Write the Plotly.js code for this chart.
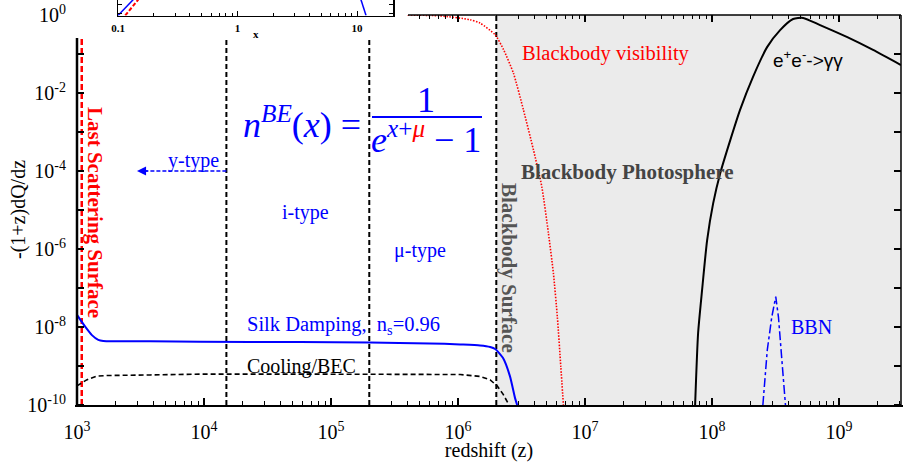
<!DOCTYPE html>
<html><head><meta charset="utf-8">
<script src="https://cdn.plot.ly/plotly-3.0.1.min.js"></script>
<style>html,body{margin:0;padding:0;background:#fff}#chart{width:906px;height:462px}</style>
</head><body><div id="chart"></div>
<script>
// ---------- data ----------
const zMax = 3.07e9;
const zSilk = [1000, 1160, 1310, 1470, 1610, 3760, 9300, 5.7e4, 2.03e5, 6.0e5, 1.04e6, 1.49e6, 1.79e6, 1.96e6, 2.26e6, 2.56e6, 2.81e6, 2.92e6];
const qSilk = [2.04e-8, 1.02e-8, 6.2e-9, 4.7e-9, 4.4e-9, 4.3e-9, 4.2e-9, 4.1e-9, 4.0e-9, 3.8e-9, 3.56e-9, 3.36e-9, 3.07e-9, 2.73e-9, 1.6e-9, 5.5e-10, 1.5e-10, 1.0e-10];
const zCool = [1000, 1190, 1430, 1710, 3760, 9300, 5.7e4, 3.5e5, 1.04e6, 1.49e6, 1.79e6, 2.03e6, 2.26e6, 2.48e6, 2.53e6];
const qCool = [3.1e-10, 4.4e-10, 5.5e-10, 5.7e-10, 5.9e-10, 6.2e-10, 6.2e-10, 6.2e-10, 6.05e-10, 5.4e-10, 4.4e-10, 3.1e-10, 1.9e-10, 1.1e-10, 1.0e-10];
const zVis = [4.0e5, 7.2e5, 1.24e6, 1.49e6, 1.96e6, 2.28e6, 2.73e6, 3.27e6, 3.92e6, 4.56e6, 5.14e6, 5.63e6, 6.05e6, 6.44e6, 6.75e6];
const qVis = [1.0, 0.95, 0.76, 0.62, 0.31, 0.13, 0.032, 3.7e-3, 3.5e-4, 4.0e-5, 2.6e-6, 2.4e-7, 1.8e-8, 9.6e-10, 1.0e-10];
const zEE = [7.35e7, 7.76e7, 8.34e7, 9.14e7, 1.02e8, 1.16e8, 1.39e8, 1.66e8, 2.10e8, 2.71e8, 3.43e8, 4.34e8, 5.21e8, 7.08e8, 1.16e9, 1.85e9, 3.07e9];
const qEE = [1.0e-10, 7.0e-9, 8.9e-8, 1.7e-6, 1.5e-5, 8.9e-5, 6.2e-4, 3.7e-3, 2.6e-2, 0.15, 0.41, 0.79, 0.84, 0.55, 0.27, 0.127, 0.052];
const zBBN = [2.51e8, 2.72e8, 2.95e8, 3.10e8, 3.17e8, 3.33e8, 3.54e8, 3.78e8];
const qBBN = [1.0e-10, 2.6e-9, 1.8e-8, 4.9e-8, 6.0e-8, 1.8e-8, 1.4e-9, 1.0e-10];
// vertical markers (redshifts) and their extent
const zLSS = 1090, zIType = 1.5e4, zMuType = 2.0e5, zBBSurface = 2.0e6;
const qBottom = 1e-10, qTopCut = 0.257, qTop = 1;
// y-type arrow
const zArrowTail = 1.5e4, zArrowHead = 2965, qArrow = 1e-4;
// inset (x = h nu / kT)
const xInBlueA = [0.1, 0.141], yInBlueA = [0, 1.2];
const xInBlueB = [10.6, 11.9], yInBlueB = [1.2, 0];
const xInRed = [0.115, 0.154], yInRed = [0, 1.2];
// ticks / labels
const xMajor = [1e3, 1e4, 1e5, 1e6, 1e7, 1e8, 1e9];
const xLabels = xMajor.map(v => '10<sup>' + Math.round(Math.log10(v)) + '</sup>');
const yDecades = [1e-10, 1e-9, 1e-8, 1e-7, 1e-6, 1e-5, 1e-4, 1e-3, 1e-2, 1e-1];
const yLabelVals = [1e-10, 1e-8, 1e-6, 1e-4, 1e-2, 1];
const yLabels = ['10<sup>-10</sup>', '10<sup>-8</sup>', '10<sup>-6</sup>', '10<sup>-4</sup>', '10<sup>-2</sup>', '10<sup>0</sup>'];
const insetMajor = [0.1, 1, 10];
const insetLabels = ['<b>0.1</b>', '<b>1</b>', '<b>10</b>'];

// ---------- geometry helpers ----------
const W = 906, H = 462, L = 77, R = 5, T = 0, B = 57;
const PW = W - L - R, PH = H - T - B;
const px = x => (x - L) / PW;
const py = y => (PH - (y - T)) / PH;

const minorVals = (lo, hi) => { const a = []; for (let d = lo; d < hi; d++) for (let m = 2; m <= 9; m++) { a.push(m * Math.pow(10, d)); } return a; };
const xMinor = minorVals(3, 10).filter(v => v <= zMax);
const xTopMajor = xMajor.filter(v => v >= 5e5);
const xTopMinor = xMinor.filter(v => v >= 5e5);
const insetMinor = minorVals(-1, 2).filter(v => v <= 20);

const serif = 'Liberation Serif, Times New Roman, serif';
const BLUE = '#0000ff', RED = '#ff0000';

const vline = (z, q0, q1, color, dash, width) => ({x: [z, z], y: [q0, q1], type: 'scatter', mode: 'lines', line: {color, dash, width}, xaxis: 'x', yaxis: 'y', hoverinfo: 'skip'});

const traces = [
  vline(zLSS, qBottom, qTopCut, RED, '6px,3px', 2.5),
  vline(zIType, qBottom, qTopCut, '#000', '5px,3px', 2),
  vline(zMuType, qBottom, qTopCut, '#000', '5px,3px', 2),
  vline(zBBSurface, qBottom, qTop, '#000', '5px,3px', 2),
  {x: zCool, y: qCool, type: 'scatter', mode: 'lines', line: {color: '#000', dash: '5px,3px', width: 1.6}, name: 'Cooling/BEC'},
  {x: zSilk, y: qSilk, type: 'scatter', mode: 'lines', line: {color: BLUE, width: 2, shape: 'spline', smoothing: 0.6}, name: 'Silk Damping'},
  // drawn on the top-tick overlay axis (same range as x) so that axis gets rendered
  {x: zVis, y: qVis, type: 'scatter', mode: 'lines', line: {color: RED, dash: '1.5px,1.5px', width: 1.6, shape: 'spline', smoothing: 0.6}, name: 'Blackbody visibility', xaxis: 'x3', yaxis: 'y'},
  {x: zEE, y: qEE, type: 'scatter', mode: 'lines', line: {color: '#000', width: 2, shape: 'spline', smoothing: 0.6}, name: 'e+e- -> gg'},
  {x: zBBN, y: qBBN, type: 'scatter', mode: 'lines', line: {color: BLUE, dash: 'dashdot', width: 1.5}, name: 'BBN'},
  {x: [zArrowTail, zArrowHead * 1.08], y: [qArrow, qArrow], type: 'scatter', mode: 'lines', line: {color: BLUE, dash: '4px,2px', width: 1.5}},
  {x: xInBlueA, y: yInBlueA, type: 'scatter', mode: 'lines', line: {color: BLUE, width: 1.5}, xaxis: 'x2', yaxis: 'y2'},
  {x: xInBlueB, y: yInBlueB, type: 'scatter', mode: 'lines', line: {color: BLUE, width: 1.5}, xaxis: 'x2', yaxis: 'y2'},
  {x: xInRed, y: yInRed, type: 'scatter', mode: 'lines', line: {color: RED, dash: '4px,2px', width: 2}, xaxis: 'x2', yaxis: 'y2'}
];

const ann = (text, x, y, size, color, extra) => Object.assign({text, x: px(x), y: py(y), xref: 'paper', yref: 'paper', showarrow: false, xanchor: 'center', yanchor: 'middle', font: {family: serif, size, color}}, extra || {});

const annotations = [
  ann('-(1+z)dQ/dz', 18, 210, 20, '#000', {textangle: -90}),
  ann('<b>Last Scattering Surface</b>', 95, 212, 21, RED, {textangle: 90}),
  ann('<b>Blackbody Surface</b>', 509, 268, 21, '#555', {textangle: 90}),
  ann('<b>Blackbody Photosphere</b>', 627, 172, 21, '#444'),
  ann('Blackbody visibility', 606, 53, 20.5, RED),
  ann('e<sup>+</sup>e<sup>-</sup>->γγ', 808, 59, 19, '#000', {font: {family: 'Liberation Sans, Arial, sans-serif', size: 19, color: '#000'}}),
  ann('BBN', 811, 327, 20, BLUE),
  ann('Silk Damping,  n<sub>s</sub>=0.96', 343, 325, 20.5, BLUE),
  ann('Cooling/BEC', 301, 366, 20, '#000'),
  ann('y-type', 193, 160, 20, BLUE),
  ann('i-type', 305, 212, 20, BLUE),
  ann('μ-type', 420, 250, 20, BLUE),
  ann('<i>n</i><sup><i>BE</i></sup>(<i>x</i>) =', 302, 122, 36, BLUE),
  ann('1', 426, 100, 36, BLUE),
  ann('<i>e</i><sup><i>x</i>+<i><span style="color:#ff0000">μ</span></i></sup> − 1', 426, 137, 36, BLUE),
  ann('<b>x</b>', 256, 34, 11, '#000'),
  {text: '', x: Math.log10(zArrowHead), y: Math.log10(qArrow), xref: 'x', yref: 'y', ax: Math.log10(zArrowHead * 1.25), ay: Math.log10(qArrow), axref: 'x', ayref: 'y', showarrow: true, arrowhead: 2, arrowsize: 1.3, arrowwidth: 1.4, arrowcolor: BLUE}
];

const shapes = [
  {type: 'rect', xref: 'x', yref: 'y', x0: zBBSurface, x1: zMax, y0: qBottom, y1: qTop, fillcolor: '#ebebeb', line: {width: 0}, layer: 'below'},
  {type: 'line', xref: 'paper', yref: 'paper', x0: px(408), x1: 1, y0: py(15), y1: py(15), line: {color: '#000', width: 1.5}},
  {type: 'line', xref: 'paper', yref: 'paper', x0: 0, x1: 0, y0: 0, y1: py(38), line: {color: '#000', width: 2.5}},
  {type: 'line', xref: 'paper', yref: 'paper', x0: 1, x1: 1, y0: 0, y1: py(15), line: {color: '#000', width: 1.5}},
  {type: 'line', xref: 'paper', yref: 'paper', x0: px(372), x1: px(482), y0: py(117), y1: py(117), line: {color: BLUE, width: 2}}
];

const tickFont = {family: serif, size: 20, color: '#000'};
const yDom = [0, py(15)];

const layout = {
  width: W, height: H,
  margin: {l: L, r: R, t: T, b: B},
  paper_bgcolor: '#fff', plot_bgcolor: '#fff',
  showlegend: false, hovermode: false,
  xaxis: {type: 'log', range: [3, Math.log10(zMax)], domain: [0, 1], anchor: 'y',
    showline: true, linecolor: '#000', linewidth: 2, ticks: 'inside', ticklen: 7, tickwidth: 1.3, tickcolor: '#000',
    tickmode: 'array', tickvals: xMajor, ticktext: xLabels, tickfont: tickFont, ticklabelstandoff: 8,
    minor: {tickmode: 'array', tickvals: xMinor, ticks: 'inside', ticklen: 4, tickwidth: 1.1, tickcolor: '#000', showgrid: false},
    showgrid: false, zeroline: false,
    title: {text: 'redshift (z)', font: {family: serif, size: 20, color: '#000'}, standoff: 0}},
  xaxis3: {type: 'log', range: [3, Math.log10(zMax)], overlaying: 'x', side: 'top', anchor: 'y',
    showline: false, ticks: 'inside', ticklen: 7, tickwidth: 1.3, tickcolor: '#000',
    tickmode: 'array', tickvals: xTopMajor, showticklabels: false,
    minor: {tickmode: 'array', tickvals: xTopMinor, ticks: 'inside', ticklen: 4, tickwidth: 1.1, tickcolor: '#000', showgrid: false},
    showgrid: false, zeroline: false},
  yaxis: {type: 'log', range: [-10, 0], domain: yDom, anchor: 'x',
    showline: true, linecolor: 'rgba(0,0,0,0)', linewidth: 2, mirror: 'ticks',
    ticks: '', tickmode: 'array', tickvals: yLabelVals, ticktext: yLabels, tickfont: tickFont, ticklabelstandoff: 5,
    minor: {tickmode: 'array', tickvals: yDecades, ticks: 'inside', ticklen: 7, tickwidth: 1.3, tickcolor: '#000', showgrid: false},
    showgrid: false, zeroline: false},
  xaxis2: {type: 'log', range: [-1, Math.log10(20)], domain: [px(118), px(393)], anchor: 'y2',
    showline: true, linecolor: '#000', linewidth: 1.5, ticks: 'inside', ticklen: 5, tickwidth: 1, tickcolor: '#000',
    tickmode: 'array', tickvals: insetMajor, ticktext: insetLabels, tickfont: {family: serif, size: 11, color: '#000'},
    ticklabelstandoff: 2,
    minor: {tickmode: 'array', tickvals: insetMinor, ticks: 'inside', ticklen: 3, tickwidth: 1, tickcolor: '#000', showgrid: false},
    showgrid: false, zeroline: false},
  yaxis2: {range: [0, 1], domain: [py(15.5), 1], anchor: 'x2',
    showline: true, mirror: 'ticks', linecolor: '#000', linewidth: 1.5, ticks: 'inside', ticklen: 4, tickwidth: 1, tickcolor: '#000',
    tickmode: 'array', tickvals: [0.16, 0.74], showticklabels: false, showgrid: false, zeroline: false},
  annotations, shapes
};

Plotly.newPlot('chart', traces, layout, {displayModeBar: false, staticPlot: true});
</script>
</body></html>
